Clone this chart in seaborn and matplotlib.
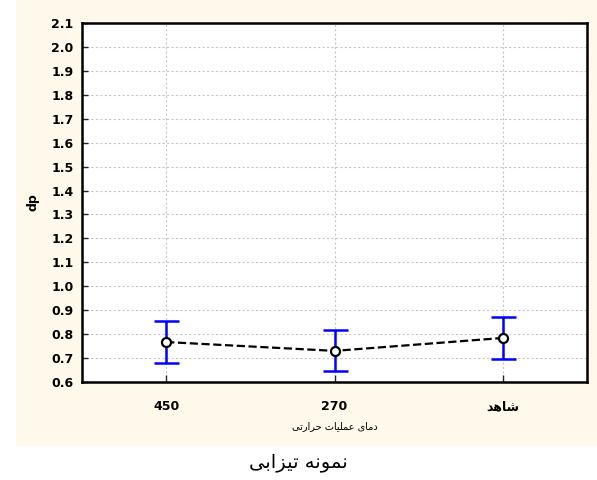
import matplotlib
matplotlib.use("Agg")
import matplotlib.pyplot as plt
import seaborn as sns
import pandas as pd
import numpy as np
from matplotlib.patches import Rectangle

# ---- data ----
categories = ["450", "270", "\ufeaa\ufeeb\ufe8e\ufeb7"]  # 450, 270, شاهد (visual order)
means = [0.767, 0.730, 0.784]
errors = [0.086, 0.086, 0.088]
yticks = [0.6, 0.7, 0.8, 0.9, 1.0, 1.1, 1.2, 1.3, 1.4, 1.5, 1.6, 1.7, 1.8, 1.9, 2.0, 2.1]
ylabel = "dp"
xlabel = "\ufbfd\ufe97\ufead\ufe8d\ufeae\ufea3 \ufe95\ufe8e\ufef4\ufee0\ufee4\ufecb \ufbfc\ufe8e\ufee3\ufea9"  # دمای عملیات حرارتی
title = "\ufbfd\ufe91\ufe8d\ufeb0\ufef4\ufe97 \ufeea\ufee7\ufeee\ufee4\ufee7"  # نمونه تیزابی

sns.set_theme(style="white")
plt.rcParams['font.family'] = ['DejaVu Sans']

fig = plt.figure(figsize=(5.97, 4.80), dpi=100)
fig.patch.set_facecolor("white")
fig.patches.append(Rectangle((16/597, 1-446/480), 1-16/597, 446/480,
                             transform=fig.transFigure, facecolor="#FFF9EC",
                             edgecolor="none", zorder=-10))

ax = fig.add_axes([82/597, 1-382/480, (587-82)/597, (382-23)/480])
ax.set_facecolor("white")

df = pd.DataFrame({"cat": categories, "mean": means})
sns.pointplot(data=df, x="cat", y="mean", order=categories, ax=ax,
              color="black", linestyles="--", markers="o", errorbar=None,
              markersize=6.5, markerfacecolor="white", markeredgecolor="black",
              markeredgewidth=1.6, linewidth=1.6, zorder=5)
ax.errorbar(np.arange(len(categories)), means, yerr=errors, fmt="none",
            ecolor="#0000FF", elinewidth=1.8, capsize=9, capthick=1.8, zorder=3)

ax.set_xlim(-0.5, 2.5)
ax.set_ylim(0.6, 2.1)
ax.set_yticks(yticks)
ax.set_yticklabels([f"{v:.1f}" for v in yticks], fontsize=9, fontweight="bold",
                   color="black")
ax.set_xticks(range(len(categories)))
ax.set_xticklabels(categories, fontsize=9, fontweight="bold", color="black")
ax.tick_params(axis="x", direction="in", length=5, width=1, pad=13, bottom=True)
ax.tick_params(axis="y", direction="in", length=4, width=1, pad=6, left=True)
ax.grid(True, color="#c8c8c8", linestyle=(0, (2, 2)), linewidth=0.8)
ax.set_axisbelow(True)
for s in ax.spines.values():
    s.set_color("black")
    s.set_linewidth(1.8)
    s.set_visible(True)

ax.set_xlabel(xlabel, fontsize=7, labelpad=6, color="black")
ax.set_ylabel(ylabel, fontsize=9, fontweight="bold", labelpad=2, color="black")
ax.yaxis.set_label_coords(-0.085, 0.5)

fig.text(0.5, 1-463/480, title, ha="center", va="center", fontsize=14,
         color="black")

fig.savefig("out.png", dpi=100, facecolor=fig.get_facecolor())
